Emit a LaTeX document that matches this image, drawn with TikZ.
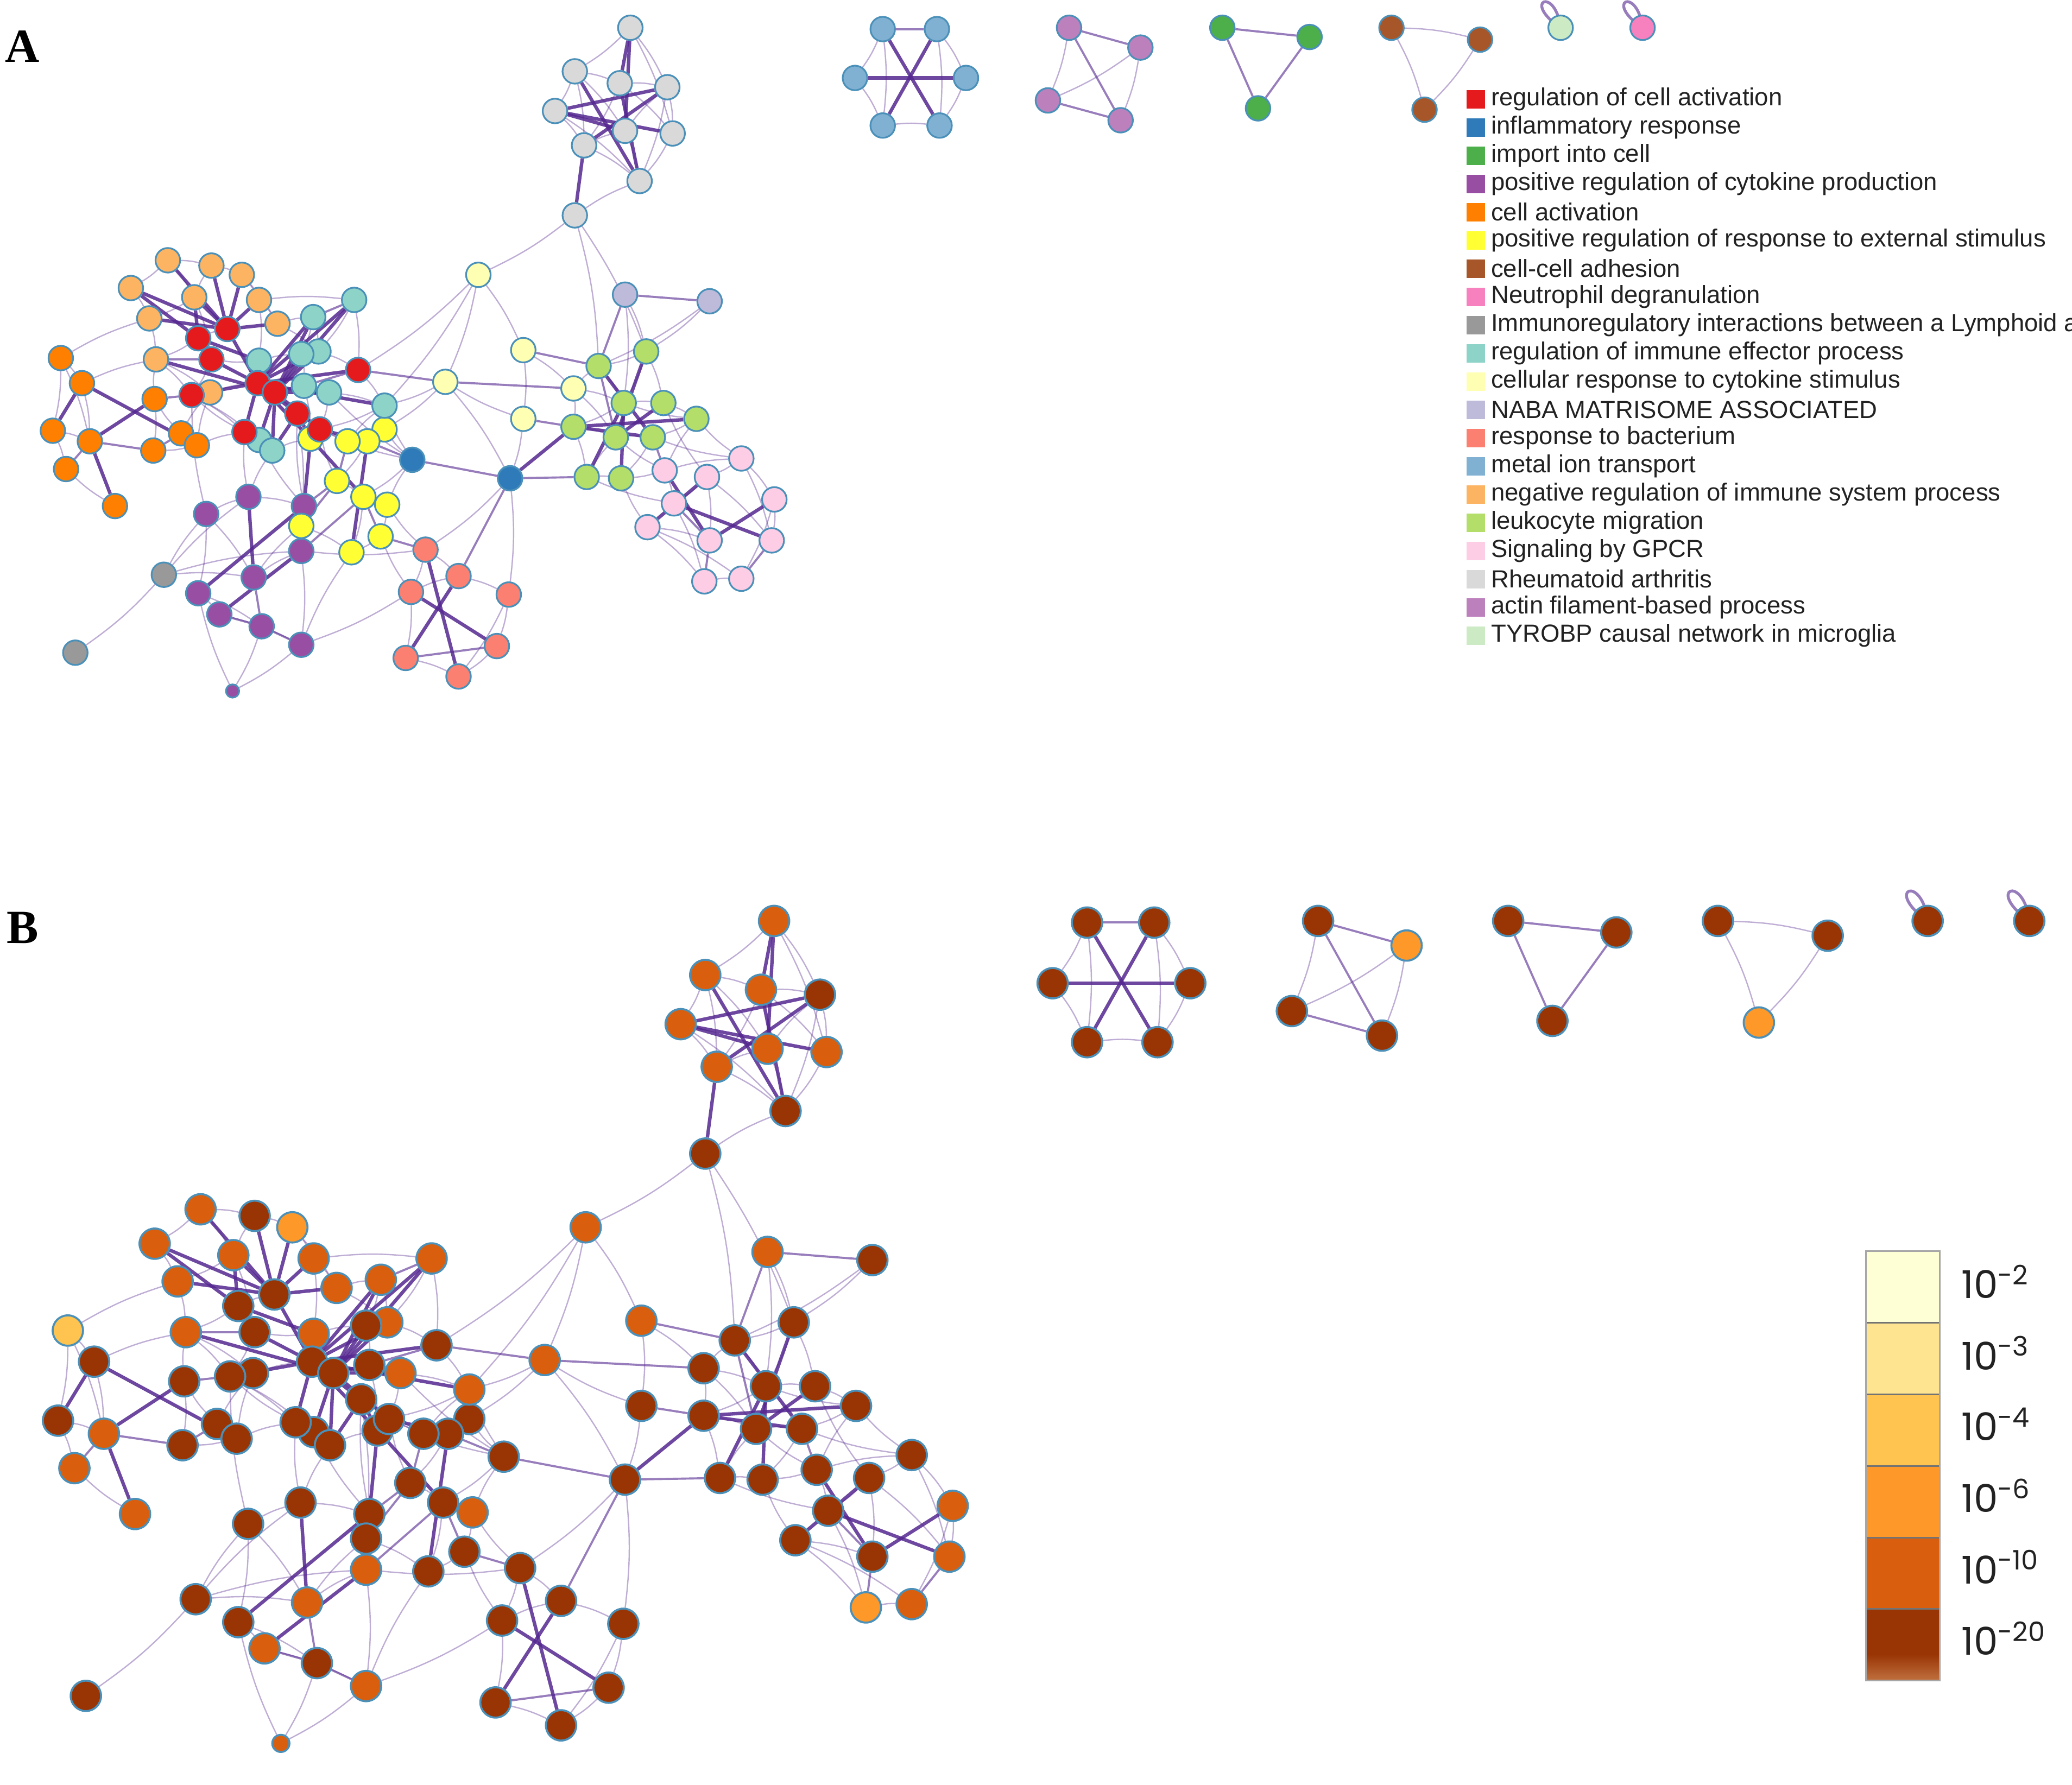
\documentclass[tikz,border=0pt]{standalone}
\usepackage{fontspec}
\setmainfont{Liberation Sans}
\newfontfamily\lblfont{Liberation Serif}
\newfontfamily\barfont{Poppins}
\pgfdeclarelayer{edges}
\pgfsetlayers{edges,main}
\definecolor{cRA}{HTML}{D9D9D9}\definecolor{cLY}{HTML}{FFFFB3}\definecolor{cNB}{HTML}{BEBADA}
\definecolor{cLM}{HTML}{B3DE69}\definecolor{cPK}{HTML}{FCCDE5}\definecolor{cBL}{HTML}{2F7BBA}
\definecolor{cSA}{HTML}{FB8072}\definecolor{cPU}{HTML}{984EA3}\definecolor{cGY}{HTML}{999999}
\definecolor{cYE}{HTML}{FFFF33}\definecolor{cTE}{HTML}{8DD3C7}\definecolor{cRD}{HTML}{E41A1C}
\definecolor{cNO}{HTML}{FDB462}\definecolor{cOR}{HTML}{FF7F00}\definecolor{cMT}{HTML}{80B1D3}
\definecolor{cAF}{HTML}{BC80BD}\definecolor{cIC}{HTML}{4DAF4A}\definecolor{cCA}{HTML}{A65628}
\definecolor{cTY}{HTML}{CCEBC5}\definecolor{cND}{HTML}{F781BF}
\definecolor{pD}{HTML}{993404}\definecolor{pM}{HTML}{D95F0E}\definecolor{pL}{HTML}{FE9929}
\definecolor{pY}{HTML}{FEC44F}\definecolor{p3}{HTML}{FEE391}\definecolor{p2}{HTML}{FFFFD6}
\definecolor{pDfade}{HTML}{C0703F}
\definecolor{nbord}{HTML}{4A90B9}\definecolor{epur}{HTML}{54278F}\definecolor{txt}{HTML}{222222}
\tikzset{
  nA/.style={circle, inner sep=0pt, minimum size=9.3pt, draw=nbord, line width=0.65pt},
  nB/.style={circle, inner sep=0pt, minimum size=11.5pt, draw=nbord, line width=0.75pt},
  es/.style={draw=epur, line width=1.3pt, opacity=0.85},
  em/.style={draw=epur, line width=0.8pt, opacity=0.6},
  ef/.style={draw=epur, line width=0.5pt, opacity=0.38, bend left=6},
  legsq/.style={rectangle, inner sep=0pt, minimum size=7pt},
  legtxt/.style={anchor=west, inner sep=0pt, text=txt, font=\fontsize{9.35}{11}\selectfont},
  bartxt/.style={anchor=west, inner sep=0pt, text=txt, font=\barfont\fontsize{14.5}{16}\selectfont},
  panel/.style={inner sep=0pt, font=\lblfont\bfseries\fontsize{18}{20}\selectfont}
}
\def\nodelist{g1/477/21/cRA/pM, g2/435/54/cRA/pM, g3/469/63/cRA/pM, g4/505/66/cRA/pD, g5/420/84/cRA/pM,
g6/473/99/cRA/pM, g7/509/101/cRA/pM, g8/442/110/cRA/pM, g9/484/137/cRA/pD, g10/435/163/cRA/pD,
ly1/362/208/cLY/pM, ly2/396/265/cLY/pM, ly3/337/289/cLY/pM, ly4/434/294/cLY/pD, ly5/396/317/cLY/pD,
nb1/473/223/cNB/pM, nb2/537/228/cNB/pD,
lm1/489/266/cLM/pD, lm2/453/277/cLM/pD, lm3/472/305/cLM/pD, lm4/502/305/cLM/pD, lm5/527/317/cLM/pD,
lm6/434/323/cLM/pD, lm7/466/331/cLM/pD, lm8/494/331/cLM/pD, lm9/444/361/cLM/pD, lm10/470/362/cLM/pD,
pk1/561/347/cPK/pD, pk2/503/356/cPK/pD, pk3/535/361/cPK/pD, pk4/586/378/cPK/pM, pk5/510/381/cPK/pD,
pk6/490/399/cPK/pD, pk7/537/409/cPK/pD, pk8/584/409/cPK/pM, pk9/533/440/cPK/pL, pk10/561/438/cPK/pM,
bl1/312/348/cBL/pD, bl2/386/362/cBL/pD,
sa1/322/416/cSA/pD, sa2/347/436/cSA/pD, sa3/311/448/cSA/pD, sa4/385/450/cSA/pD, sa5/376/489/cSA/pD,
sa6/307/498/cSA/pD, sa7/347/512/cSA/pD,
pu1/188/376/cPU/pD, pu2/156/389/cPU/pD, pu3/230/383/cPU/pD, pu4/228/417/cPU/pM, pu5/192/437/cPU/pM,
pu6/150/449/cPU/pD, pu7/166/465/cPU/pM, pu8/198/474/cPU/pD, pu9/228/488/cPU/pM,
gy1/124/435/cGY/pD, gy2/57/494/cGY/pD,
ye1/291/325/cYE/pD, ye2/278/334/cYE/pD, ye3/263/334/cYE/pD, ye4/235/332/cYE/pD, ye5/255/364/cYE/pD,
ye6/275/376/cYE/pD, ye7/293/382/cYE/pM, ye8/228/398/cYE/pD, ye9/288/406/cYE/pD, ye10/266/418/cYE/pD,
te1/268/227/cTE/pM, te2/237/240/cTE/pM, te3/241/266/cTE/pM, te4/228/268/cTE/pD, te5/196/273/cTE/pM,
te6/230/292/cTE/pD, te7/249/297/cTE/pM, te8/291/307/cTE/pM, te9/196/333/cTE/pD, te10/206/341/cTE/pD,
no1/127/197/cNO/pM, no2/160/201/cNO/pD, no3/183/208/cNO/pL, no4/99/218/cNO/pM, no5/147/225/cNO/pM,
no6/196/227/cNO/pM, no7/113/241/cNO/pM, no8/210/245/cNO/pM, no9/118/272/cNO/pM, no10/159/297/cNO/pD,
rd1/150/256/cRD/pD, rd2/172/249/cRD/pD, rd3/160/272/cRD/pD, rd4/195/290/cRD/pD, rd5/208/297/cRD/pD,
rd6/145/299/cRD/pD, rd7/225/313/cRD/pD, rd8/271/280/cRD/pD, rd9/185/327/cRD/pD, rd10/242/325/cRD/pD,
or1/46/271/cOR/pY, or2/62/290/cOR/pD, or3/117/302/cOR/pD, or4/40/326/cOR/pD, or5/68/334/cOR/pM,
or6/137/328/cOR/pD, or7/149/337/cOR/pD, or8/116/341/cOR/pD, or9/50/355/cOR/pM, or10/87/383/cOR/pM,
mt1/668/22/cMT/pD, mt2/709/22/cMT/pD, mt3/647/59/cMT/pD, mt4/731/59/cMT/pD, mt5/668/95/cMT/pD, mt6/711/95/cMT/pD,
af1/809/21/cAF/pD, af2/863/36/cAF/pL, af3/793/76/cAF/pD, af4/848/91/cAF/pD,
ic1/925/21/cIC/pD, ic2/991/28/cIC/pD, ic3/952/82/cIC/pD,
ca1/1053/21/cCA/pD, ca2/1120/30/cCA/pD, ca3/1078/83/cCA/pL,
ty1/1181/21/cTY/pD, nd1/1243/21/cND/pD}
\def\strongedges{g1/g3, g1/g6, g5/g4, g5/g6, g5/g7, g2/g9, g3/g9, g8/g4, g10/g8,
mt3/mt4, mt1/mt6, mt2/mt5,
lm1/lm7, lm2/lm8, lm3/lm10, lm6/lm5, lm7/lm4, lm9/lm3, lm6/lm8, bl2/lm6,
pk5/pk8, pk2/pk7, pk6/pk3, pk4/pk7,
sa1/sa7, sa2/sa6, sa3/sa5,
pu1/pu5, pu6/pu3, pu7/pu4, pu3/ye4,
ye2/ye10, ye4/ye6, ye4/rd7, ye2/rd10, ye4/rd4,
rd2/no1, rd2/no2, rd2/no3, rd2/no4, rd2/no6, rd2/no7, rd2/no8, rd2/no5, rd1/no4, rd1/no5, rd4/rd2, rd4/te5,
rd4/te2, rd4/te1, rd4/rd8, rd4/te8, rd4/rd6, rd4/rd9, rd4/rd7, rd4/te3, rd5/te3, rd5/te4, rd5/rd10, rd5/te6,
rd5/te7, rd5/rd3, rd5/te9, rd5/no9, rd5/te2, rd5/te1, rd3/rd1, rd7/te10, rd5/te10, rd1/te5,
or2/or4, or5/or3, or5/or10, or2/or7}
\def\mededges{mt1/mt2, af1/af2, af1/af4, af3/af4, ic1/ic2, ic1/ic3, ic2/ic3, nb1/nb2, nb1/lm2, ly3/ly4,
ly2/lm2, ly5/lm6, bl2/lm9, pk7/pk9, pk8/pk10, pk5/pk7, bl1/bl2, bl1/ye2, bl2/sa2, sa6/sa5, sa1/ye9,
pu5/pu8, pu8/pu9, pu7/pu8, pu4/ye6, pu3/ye5, ye5/ye8, ye6/ye9, ye3/ye5, rd8/ly3, or5/or8, or9/or5,
or8/or6, or3/rd6, te2/te1, rd8/te6, no9/rd3, rd9/te9, rd6/no10, lm2/lm7, pk2/lm8, te8/ye1}
\def\faintedges{g1/g2, g1/g4, g1/g7, g2/g3, g2/g5, g3/g4, g4/g7, g2/g8, g5/g8, g8/g6, g8/g9, g6/g9, g7/g9,
g3/g7, g5/g9, g2/g6, g3/g8, g10/g9, g4/g9, g6/g4,
mt1/mt3, mt3/mt5, mt2/mt4, mt4/mt6, mt5/mt6, mt1/mt5, mt2/mt6, af1/af3, af2/af3, af2/af4,
ca1/ca2, ca1/ca3, ca2/ca3,
g10/ly1, g10/lm2, g10/lm1,
ly1/ly3, ly1/ly2, ly1/rd8, ly1/te8, ly2/ly5, ly4/lm2, ly4/lm3, ly3/te8, ly3/bl2, ly5/bl2, ly3/ye1,
ly2/ly4, ly4/lm6, ly5/ly3, ly4/lm7,
nb2/lm2, nb1/lm1, nb1/lm3, nb2/lm1,
lm1/lm3, lm1/lm4, lm3/lm4, lm4/lm5, lm3/lm6, lm7/lm8, lm9/lm10, lm6/lm9, lm8/lm10, lm5/lm8, lm2/lm3,
lm1/lm2, lm5/lm3, lm6/lm7, lm9/lm7,
pk1/lm8, pk2/lm7, pk2/lm10, pk3/lm4, pk1/lm5, pk5/lm9, pk6/lm10, pk2/lm5,
pk9/pk10, pk1/pk3, pk1/pk4, pk1/pk8, pk4/pk8, pk6/pk9, pk2/pk5, pk3/pk5, pk6/pk7, pk2/pk1, pk5/pk9,
pk3/pk8, pk4/pk10, pk6/pk10, pk3/pk7,
bl1/ye6, bl1/te8, bl2/sa4, bl2/sa1, bl1/te7, bl1/rd10, bl1/ye1,
sa2/sa4, sa3/sa6, sa6/sa7, sa5/sa7, sa4/sa5, sa1/sa2, sa1/sa3, sa3/sa2, sa1/ye7, sa3/ye9, sa4/sa7,
sa1/pu4, sa3/pu9,
pu2/pu1, pu2/pu6, pu6/pu7, pu7/pu9, pu9/pu10, pu10/pu6, pu3/pu4, pu4/pu9, pu1/pu3, pu2/pu5, pu6/pu8,
pu5/pu4, pu1/rd9, pu2/rd6, pu3/rd7, pu1/te10, pu3/te9, pu4/ye8, pu5/ye8, pu9/ye10, pu8/pu10,
gy1/gy2, gy1/pu1, gy1/pu2, gy1/pu4, gy1/pu5,
ye1/ye3, ye2/ye3, ye1/ye2, ye5/ye6, ye6/ye7, ye7/ye9, ye9/ye10, ye8/ye10, ye1/te8, ye3/te8, ye3/rd7,
ye5/rd10, ye2/ye5, ye6/ye10, ye7/bl1,
no1/no2, no1/no4, no2/no3, no3/no6, no6/no8, no4/no7, no5/no7, no7/no9, no9/rd6, no8/te2, no6/te1,
no1/no5, no5/no2, no3/no8, no9/no10, no5/rd3, no6/te5, no8/te3,
te1/te3, te2/te3, te3/te4, te4/te6, te6/te7, te7/te8, te8/rd10, te9/te10, te9/rd9, te5/te4, te5/rd3,
te1/rd8, rd8/te8, te10/ye4, rd10/ye3, te6/ye4, rd7/ye8, te3/rd8, te2/te4, te7/rd10, te8/ye2,
rd9/rd6, rd1/no9, rd3/rd6, rd6/te9, no10/rd4, no10/rd6, rd1/rd2, rd6/rd9, rd7/rd10,
or1/or5, or1/or2, or4/or9, or1/or4, or6/or3, or7/rd9, or1/no7, or2/no9, or10/or9, or6/no10, or4/or5,
or3/or8, or7/or8, or2/or5, or3/no9, or6/or7, or7/no10}
\begin{document}
\begin{tikzpicture}[x=0.5pt, y=-0.5pt]
\useasboundingbox (0,0) rectangle (1568,1351);
% panel labels
\node[panel] (labA) at (17,35) {A};
\node[panel] (labB) at (17,702) {B};
% panel A nodes
\foreach \n/\x/\y/\ca/\cb in \nodelist {\node[nA, fill=\ca] (a\n) at (\x,\y) {};}
\node[nA, fill=cPU, minimum size=5pt] (apu10) at (176,523) {};
% panel B nodes
\begin{scope}[shift={(-5.7,671)}, scale=1.24]
\foreach \n/\x/\y/\ca/\cb in \nodelist {\node[nB, fill=\cb] (b\n) at (\x,\y) {};}
\node[nB, fill=pM, minimum size=6.5pt] (bpu10) at (176,523) {};
\end{scope}
% edges
\begin{pgfonlayer}{edges}
\foreach \u/\v in \faintedges {\draw[ef] (a\u) to (a\v); \draw[ef] (b\u) to (b\v);}
\foreach \u/\v in \mededges {\draw[em] (a\u) -- (a\v); \draw[em] (b\u) -- (b\v);}
\foreach \u/\v in \strongedges {\draw[es] (a\u) -- (a\v); \draw[es] (b\u) -- (b\v);}
\draw[em, line width=1.1pt] (aty1.center) .. controls +(-30,-20) and +(-4,-32) .. (aty1.center);
\draw[em, line width=1.1pt] (and1.center) .. controls +(-30,-20) and +(-4,-32) .. (and1.center);
\draw[em, line width=1.1pt] (bty1.center) .. controls +(-34,-24) and +(-4,-36) .. (bty1.center);
\draw[em, line width=1.1pt] (bnd1.center) .. controls +(-34,-24) and +(-4,-36) .. (bnd1.center);
\end{pgfonlayer}
% legend
\begin{scope}
\clip (0,0) rectangle (1568,1351);
\foreach \c/\t [count=\i from 0] in {cRD/regulation of cell activation, cBL/inflammatory response,
  cIC/import into cell, cPU/positive regulation of cytokine production, cOR/cell activation,
  cYE/positive regulation of response to external stimulus, cCA/cell-cell adhesion,
  cND/Neutrophil degranulation, cGY/Immunoregulatory interactions between a Lymphoid a,
  cTE/regulation of immune effector process, cLY/cellular response to cytokine stimulus,
  cNB/NABA MATRISOME ASSOCIATED, cSA/response to bacterium, cMT/metal ion transport,
  cNO/negative regulation of immune system process, cLM/leukocyte migration, cPK/Signaling by GPCR,
  cRA/Rheumatoid arthritis, cAF/actin filament-based process, cTY/TYROBP causal network in microglia} {
  \node[legsq, fill=\c] (sq\i) at (1117,{75+\i*21.37}) {};
  \node[legtxt] (leg\i) at (1128,{75+\i*21.37}) {\t};
}
\end{scope}
% colour bar
\fill[p2] (1412,947) rectangle (1468,1001.2);
\fill[p3] (1412,1001.2) rectangle (1468,1055.3);
\fill[pY] (1412,1055.3) rectangle (1468,1109.5);
\fill[pL] (1412,1109.5) rectangle (1468,1163.7);
\fill[pM] (1412,1163.7) rectangle (1468,1217.8);
\fill[pD] (1412,1217.8) rectangle (1468,1252);
\shade[top color=pD, bottom color=pDfade] (1412,1252) rectangle (1468,1272);
\foreach \yy in {1001.2,1055.3,1109.5,1163.7,1217.8} {\draw[black!55, line width=0.6pt] (1412,\yy) -- (1468,\yy);}
\draw[black!35, line width=0.7pt] (1412,947) rectangle (1468,1272);
\foreach \e/\yy [count=\k] in {-2/970, -3/1024, -4/1078, -6/1132, -10/1186, -20/1240}
  {\node[bartxt] (bar\k) at (1484,\yy) {10\textsuperscript{\e}};}
\end{tikzpicture}
\end{document}
